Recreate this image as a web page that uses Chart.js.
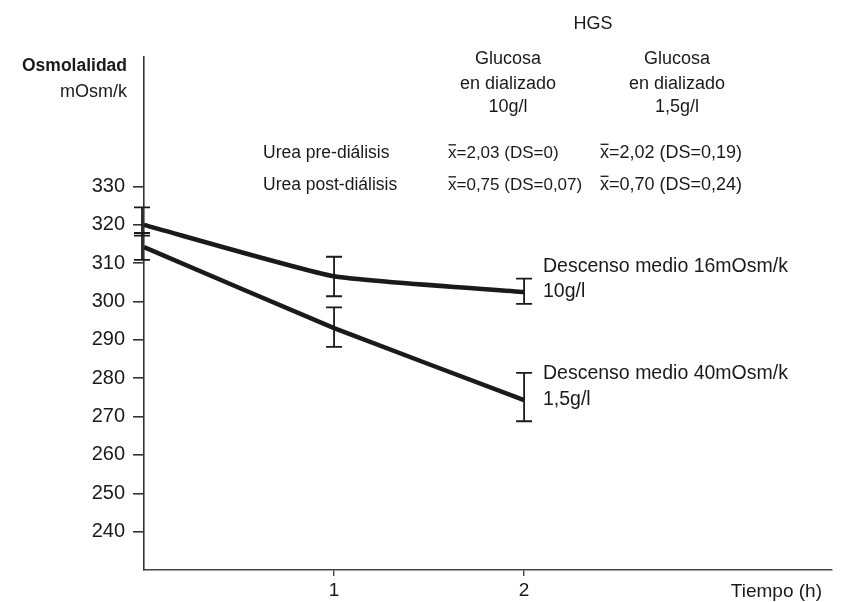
<!DOCTYPE html>
<html>
<head>
<meta charset="utf-8">
<script src="https://cdn.jsdelivr.net/npm/chart.js@4/dist/chart.umd.min.js"></script>
<style>
  html, body { margin: 0; padding: 0; background: #fff; }
  #wrap { width: 845px; height: 602px; position: relative; }
</style>
</head>
<body>
<div id="wrap"><canvas id="osm"></canvas></div>
<script>
// Osmolalidad plasmática durante HGS, glucosa 10g/l vs 1,5g/l
const times = [0, 1, 2];
const osm10 = [320.0, 306.6, 302.5];
const osm10Hi = [324.6, 311.7, 306.0];
const osm10Lo = [317.2, 301.4, 299.4];
const osm15 = [314.2, 293.1, 274.3];
const osm15Hi = [317.9, 298.5, 281.4];
const osm15Lo = [310.9, 288.2, 268.8];
const yTicks = [240, 250, 260, 270, 280, 290, 300, 310, 320, 330];
const xTicks = [1, 2];

const INK = '#1a1a1a';
const FONT = '"Liberation Sans", Arial, Helvetica, sans-serif';

function pts(ys) { return times.map((t, i) => ({ x: t, y: ys[i] })); }

// error bars from the Hi/Lo arrays
const errorBars = {
  id: 'errorBars',
  afterDatasetsDraw(chart) {
    const { ctx, scales: { x, y } } = chart;
    const sets = [[osm10Lo, osm10Hi], [osm15Lo, osm15Hi]];
    ctx.save();
    ctx.strokeStyle = INK;
    ctx.lineWidth = 1.8;
    sets.forEach(([lo, hi]) => {
      times.forEach((t, i) => {
        const px = x.getPixelForValue(t) - (i === 0 ? 2 : 0);
        const y1 = y.getPixelForValue(lo[i]), y2 = y.getPixelForValue(hi[i]);
        ctx.beginPath();
        ctx.moveTo(px, y1); ctx.lineTo(px, y2);
        ctx.moveTo(px - 8, y1); ctx.lineTo(px + 8, y1);
        ctx.moveTo(px - 8, y2); ctx.lineTo(px + 8, y2);
        ctx.stroke();
      });
    });
    ctx.restore();
  }
};

function txt(ctx, s, x, y, size, align, bold) {
  ctx.font = (bold ? 'bold ' : '') + size + 'px ' + FONT;
  ctx.textAlign = align || 'left';
  ctx.fillText(s, x, y);
}

// "x̄=..." with a drawn bar over the x
function meanTxt(ctx, s, x, y, size) {
  ctx.font = size + 'px ' + FONT;
  ctx.textAlign = 'left';
  ctx.fillText('x', x, y);
  const w = ctx.measureText('x').width;
  ctx.fillRect(x + 0.5, y - size * 0.52, w - 1, 1.3);
  ctx.fillText(s, x + w, y);
}

const labels = {
  id: 'labels',
  afterDraw(chart) {
    const ctx = chart.ctx;
    ctx.save();
    ctx.fillStyle = INK;
    ctx.textBaseline = 'middle';
    txt(ctx, 'Osmolalidad', 127, 66, 17.5, 'right', true);
    txt(ctx, 'mOsm/k', 127, 92, 18, 'right');

    txt(ctx, 'HGS', 593, 24, 18, 'center');
    [['Glucosa', 59], ['en dializado', 84], ['10g/l', 107]].forEach(([s, y]) => txt(ctx, s, 508, y, 18, 'center'));
    [['Glucosa', 59], ['en dializado', 84], ['1,5g/l', 107]].forEach(([s, y]) => txt(ctx, s, 677, y, 18, 'center'));

    txt(ctx, 'Urea pre-diálisis', 263, 153, 17.5);
    txt(ctx, 'Urea post-diálisis', 263, 185, 17.5);
    meanTxt(ctx, '=2,03 (DS=0)', 448, 153, 17);
    meanTxt(ctx, '=0,75 (DS=0,07)', 448, 185, 17);
    meanTxt(ctx, '=2,02 (DS=0,19)', 600, 153, 18);
    meanTxt(ctx, '=0,70 (DS=0,24)', 600, 185, 18);

    txt(ctx, 'Descenso medio 16mOsm/k', 543, 267, 19.5);
    txt(ctx, '10g/l', 543, 292, 19.5);
    txt(ctx, 'Descenso medio 40mOsm/k', 543, 374, 19.5);
    txt(ctx, '1,5g/l', 543, 400, 19.5);

    txt(ctx, 'Tiempo (h)', 822, 592, 19, 'right');
    ctx.restore();
  }
};

new Chart(document.getElementById('osm'), {
  type: 'line',
  data: {
    datasets: [
      { label: '10g/l', data: pts(osm10), borderColor: INK, borderWidth: 4.5, pointRadius: 0, tension: 0.15, clip: false },
      { label: '1,5g/l', data: pts(osm15), borderColor: INK, borderWidth: 4.5, pointRadius: 0, tension: 0.1, clip: false },
    ]
  },
  options: {
    responsive: true,
    maintainAspectRatio: false,
    animation: false,
    layout: { padding: { top: 57, right: 13, left: 0, bottom: 0 } },
    plugins: { legend: { display: false }, tooltip: { enabled: false } },
    scales: {
      x: {
        type: 'linear', min: 0, max: 3.62,
        afterBuildTicks: s => { s.ticks = xTicks.map(v => ({ value: v })); },
        afterFit: s => { s.height = 32; },
        border: { display: true, color: '#444', width: 1.6 },
        grid: { drawOnChartArea: false, tickLength: 6, color: '#444', lineWidth: 1.4 },
        ticks: { color: INK, padding: 3, font: { family: FONT, size: 19 } }
      },
      y: {
        min: 230, max: 363.8,
        afterBuildTicks: s => { s.ticks = yTicks.map(v => ({ value: v })); },
        afterFit: s => { s.width = 144; },
        border: { display: true, color: '#333', width: 1.6 },
        grid: { drawOnChartArea: false, tickLength: 11, color: '#333', lineWidth: 1.6 },
        ticks: { color: INK, padding: 8, font: { family: FONT, size: 20 } }
      }
    }
  },
  plugins: [errorBars, labels]
});
</script>
</body>
</html>
